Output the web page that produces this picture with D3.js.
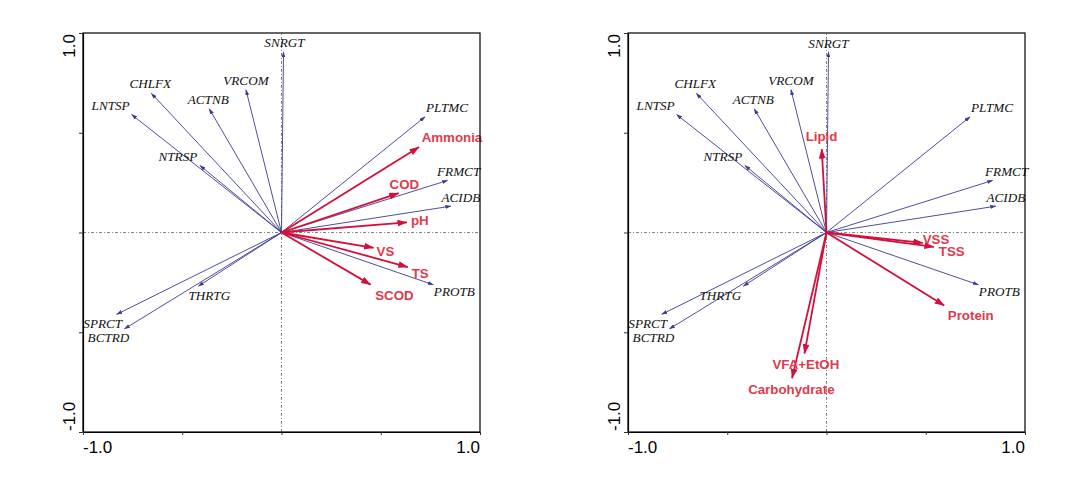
<!DOCTYPE html>
<html><head><meta charset="utf-8">
<script src="https://cdn.jsdelivr.net/npm/d3@7"></script>
<style>body{margin:0;background:#fff;} svg{display:block;}</style>
</head><body>
<svg id="chart" width="1090" height="496"></svg>
<script>
// ---- data ----
const speciesNames = ["SNRGT","CHLFX","LNTSP","ACTNB","VRCOM","NTRSP","PLTMC","FRMCT","ACIDB","PROTB","SPRCT","BCTRD","THRTG"];
const speciesX = [0.010,-0.656,-0.755,-0.364,-0.179,-0.411,0.723,0.837,0.853,0.765,-0.830,-0.791,-0.419];
const speciesY = [0.905,0.698,0.591,0.620,0.716,0.336,0.580,0.261,0.132,-0.262,-0.410,-0.483,-0.269];

const envNamesA = ["Ammonia","COD","pH","VS","TS","SCOD"];
const envXA = [0.706,0.605,0.647,0.479,0.651,0.462];
const envYA = [0.436,0.202,0.052,-0.079,-0.177,-0.269];

const envNamesB = ["Lipid","VSS","TSS","Protein","VFA+EtOH","Carbohydrate"];
const envXB = [-0.025,0.500,0.556,0.606,-0.114,-0.177];
const envYB = [0.433,-0.054,-0.074,-0.374,-0.622,-0.745];

const axisDomain = [-1, 1];
const tickValues = [-1, -0.5, 0, 0.5, 1];
const endTickLabels = ["-1.0", "1.0"];

// ---- layout (pixel nudges for labels, not data) ----
const speciesNudgeA = {SNRGT:[1,-9],CHLFX:[-1,-10],LNTSP:[-21,-9],ACTNB:[-1,-9],VRCOM:[0,-9],NTRSP:[-22,-9],PLTMC:[22,-9],FRMCT:[11,-9],ACIDB:[10,-9],PROTB:[21,7],SPRCT:[-14,9],BCTRD:[-16,9],THRTG:[11,9]};
const speciesNudgeB = Object.assign({}, speciesNudgeA, {SNRGT:[0,-8],FRMCT:[14,-9],THRTG:[-23,9]});
const envNudgeA = {Ammonia:["start",0,-8.3],COD:["start",-12,-7.7],pH:["start",1,-2.4],VS:["start",0,3.3],TS:["start",1,5.4],SCOD:["start",2,9.3]};
const envNudgeB = {Lipid:["middle",0,-10],VSS:["start",-3,-4.4],TSS:["start",2,4],Protein:["start",1,8.3],"VFA+EtOH":["middle",2,7.3],Carbohydrate:["middle",0,8.3]};

const svg = d3.select("#chart");
const BLUE = "#3a3a8e", RED = "#d3103c", RED_TXT = "#e03a4c";

const defs = svg.append("defs");
defs.append("marker").attr("id","hb").attr("markerUnits","userSpaceOnUse")
  .attr("markerWidth",6).attr("markerHeight",4).attr("refX",5.5).attr("refY",2)
  .attr("orient","auto").append("path").attr("d","M0,0 L6,2 L0,4 Z").attr("fill",BLUE);
defs.append("marker").attr("id","hr").attr("markerUnits","userSpaceOnUse")
  .attr("markerWidth",10).attr("markerHeight",7).attr("refX",9.5).attr("refY",3.5)
  .attr("orient","auto").append("path").attr("d","M0,0 L10,3.5 L0,7 Z").attr("fill",RED);

const panels = [
  {x0: 83, names: envNamesA, xs: envXA, ys: envYA, sNudge: speciesNudgeA, eNudge: envNudgeA},
  {x0: 628, names: envNamesB, xs: envXB, ys: envYB, sNudge: speciesNudgeB, eNudge: envNudgeB}
];
const W = 397, TOP = 33, BOT = 432;

panels.forEach(p => {
  const x = d3.scaleLinear().domain(axisDomain).range([p.x0, p.x0 + W]);
  const y = d3.scaleLinear().domain(axisDomain).range([BOT, TOP]);
  const g = svg.append("g");

  // zero lines
  g.append("line").attr("x1", x(-1)).attr("x2", x(1)).attr("y1", y(0)).attr("y2", y(0))
    .attr("stroke","#666").attr("stroke-width",0.8).attr("stroke-dasharray","3,2,1,2");
  g.append("line").attr("x1", x(0)).attr("x2", x(0)).attr("y1", y(-1)).attr("y2", y(1))
    .attr("stroke","#666").attr("stroke-width",0.8).attr("stroke-dasharray","3,2,1,2");

  // species arrows
  speciesNames.forEach((n, i) => {
    const tx = x(speciesX[i]), ty = y(speciesY[i]);
    g.append("line").attr("x1", x(0)).attr("y1", y(0)).attr("x2", tx).attr("y2", ty)
      .attr("stroke", BLUE).attr("stroke-width", 0.9).attr("marker-end","url(#hb)");
    const nd = p.sNudge[n];
    g.append("text").attr("x", tx + nd[0]).attr("y", ty + nd[1] + 4.4)
      .attr("text-anchor","middle").attr("font-family","'Liberation Serif','Times New Roman',serif")
      .attr("font-style","italic").attr("font-size", 13.2).attr("fill","#111").text(n);
  });

  // environmental arrows
  p.names.forEach((n, i) => {
    const tx = x(p.xs[i]), ty = y(p.ys[i]);
    const ox = x(0), oy = y(0);
    const L = Math.hypot(tx - ox, ty - oy);
    const ex = tx - (tx - ox) / L * 3, ey = ty - (ty - oy) / L * 3;
    g.append("line").attr("x1", ox).attr("y1", oy).attr("x2", ex).attr("y2", ey)
      .attr("stroke", RED).attr("stroke-width", 1.8).attr("marker-end","url(#hr)");
  });
  p.names.forEach((n, i) => {
    const tx = x(p.xs[i]), ty = y(p.ys[i]);
    const nd = p.eNudge[n];
    g.append("text").attr("x", tx + nd[1]).attr("y", ty + nd[2] + 4.8)
      .attr("text-anchor", nd[0]).attr("font-family","'Liberation Sans',Arial,sans-serif")
      .attr("font-weight","bold").attr("font-size", 13.3).attr("fill", RED_TXT).text(n);
  });

  // frame & axes
  g.append("rect").attr("x", x(-1)).attr("y", y(1)).attr("width", x(1) - x(-1)).attr("height", y(-1) - y(1))
    .attr("fill","none").attr("stroke","#000").attr("stroke-width",1.2);
  const ya = g.append("g").attr("transform", `translate(${x(-1)},0)`)
    .call(d3.axisLeft(y).tickValues(tickValues).tickSize(4).tickSizeOuter(0).tickFormat(""));
  const xa = g.append("g").attr("transform", `translate(0,${y(-1)})`)
    .call(d3.axisBottom(x).tickValues(tickValues).tickSize(3).tickSizeOuter(0).tickFormat(""));
  [ya, xa].forEach(a => { a.select(".domain").attr("stroke-width",1.2); a.selectAll(".tick line").attr("stroke","#333"); });

  // end tick labels
  const font = "'Liberation Sans',Arial,sans-serif";
  g.append("text").attr("transform", `translate(${x(-1) - 8.5},${y(1) + 1}) rotate(-90)`)
    .attr("text-anchor","end").attr("font-family", font).attr("font-size",17).text(endTickLabels[1]);
  g.append("text").attr("transform", `translate(${x(-1) - 8.5},${y(-1) - 1}) rotate(-90)`)
    .attr("text-anchor","start").attr("font-family", font).attr("font-size",17).text(endTickLabels[0]);
  g.append("text").attr("x", x(-1)).attr("y", y(-1) + 21).attr("text-anchor","start")
    .attr("font-family", font).attr("font-size",17).text(endTickLabels[0]);
  g.append("text").attr("x", x(1)).attr("y", y(-1) + 21).attr("text-anchor","end")
    .attr("font-family", font).attr("font-size",17).text(endTickLabels[1]);
});
</script>
</body></html>
